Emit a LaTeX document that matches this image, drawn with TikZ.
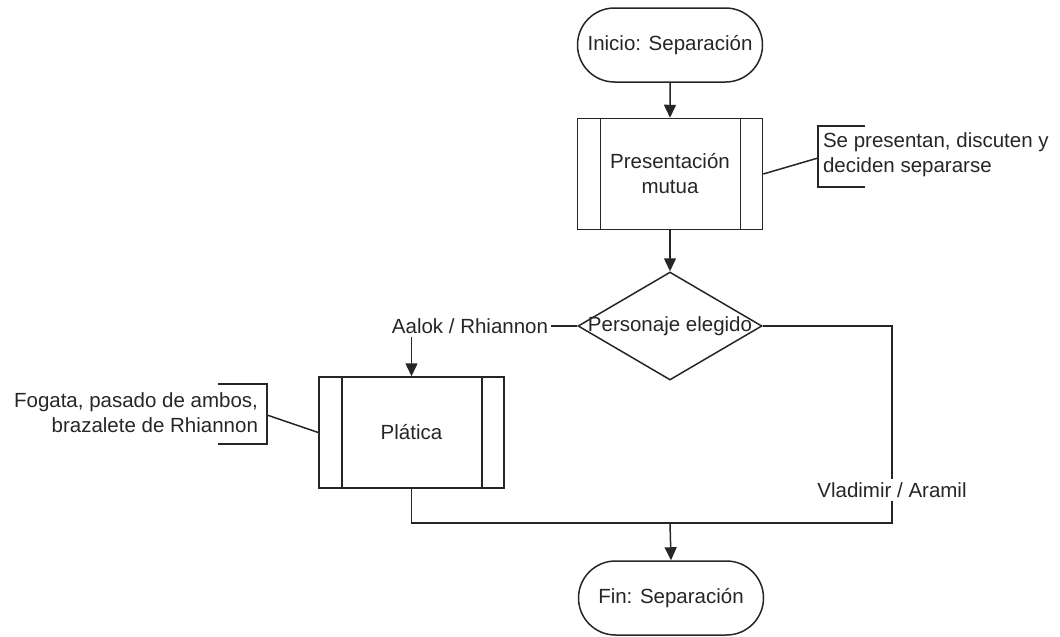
\documentclass[tikz,border=0pt]{standalone}
\usepackage{fontspec}
\setmainfont{Liberation Sans}
\usetikzlibrary{shapes.geometric,shapes.misc,arrows.meta}
\begin{document}
\begin{tikzpicture}[x=1pt,y=-1pt,
  every node/.style={font=\fontsize{20.5}{25}\selectfont, text=black!85},
  line/.style={draw=black!85, line width=1.5pt},
  arr/.style={line, -{Triangle[length=13pt,width=12pt]}},
  terminal/.style={line, rounded rectangle, minimum width=185pt, minimum height=74pt, inner sep=0pt},
  decision/.style={line, diamond, minimum width=184pt, minimum height=108pt, inner sep=0pt},
  subproc/.style={line, rectangle, minimum width=185pt, minimum height=111pt, align=center,
    path picture={
      \draw[line] ([xshift=23pt]path picture bounding box.north west) -- ([xshift=23pt]path picture bounding box.south west);
      \draw[line] ([xshift=-22pt]path picture bounding box.north east) -- ([xshift=-22pt]path picture bounding box.south east);
    }},
  lbl/.style={inner sep=3pt}
]
\useasboundingbox (0,0) rectangle (1060,637);

% main flow
\node[terminal] (ini) at (670,45) {Inicio: Separación};
\node[subproc] (pres) at (670,174) {Presentación\\mutua};
\node[decision] (dec) at (670,326) {};
\node[inner sep=0pt] (dectext) at (dec.center) {Personaje elegido};
\node[subproc] (plat) at (411.5,432.5) {Plática};
\node[terminal] (fin) at (671,598) {Fin: Separación};

\draw[arr] (ini) -- (pres);
\draw[arr] (pres) -- (dec);

% branch labels
\node[lbl] (aalok) at (470,326) {Aalok / Rhiannon};
\node[lbl] (vlad) at (892,490) {Vladimir / Aramil};
\coordinate (j) at (670,523);

\draw[line] (dec.west) -- (aalok.east);
\draw[arr] (aalok.south -| plat.north) -- (plat.north);
\draw[line] (dec.east) -| (vlad.north);
\draw[line] (vlad.south) |- (j);
\draw[line] (plat.south) |- (j);
\draw[arr] (j) -- (fin.north);

% annotations
\node[anchor=west, align=left] (n1) at (819.5,155) {Se presentan, discuten y\\deciden separarse};
\draw[line] (865,126) -- (818,126) -- (818,187) -- (865,187);
\coordinate (c1) at (818,158);
\draw[line] (pres.east) -- (c1);

\node[anchor=east, align=right] (n2) at (261.5,412.5) {Fogata, pasado de ambos,\\brazalete de Rhiannon};
\draw[line] (218,384) -- (267,384) -- (267,444) -- (218,444);
\coordinate (c2) at (267,415);
\draw[line] (c2) -- (plat.west);
\end{tikzpicture}
\end{document}
